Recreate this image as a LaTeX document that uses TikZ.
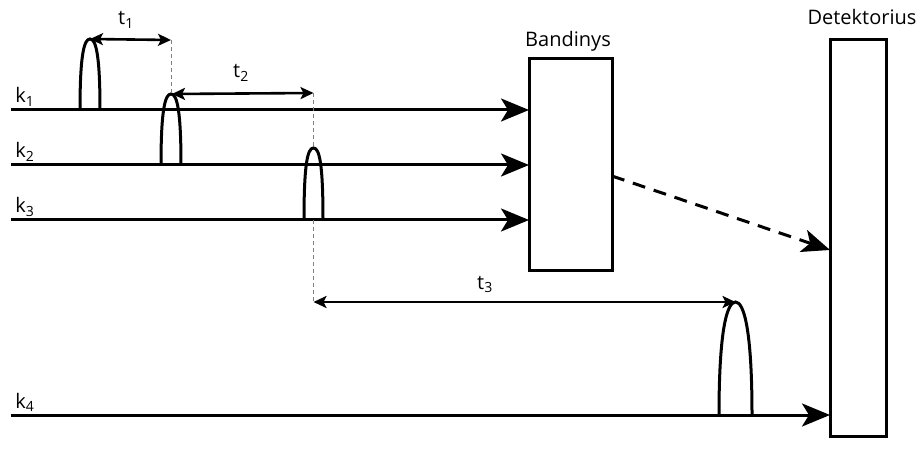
\documentclass[tikz,border=0pt]{standalone}
\usepackage{fontspec}
\setmainfont{Open Sans}
\usetikzlibrary{arrows.meta}
\begin{document}
\begin{tikzpicture}[x=1pt,y=-1pt,
  beam/.style={line width=3pt,-{Stealth[length=28pt,width=23pt,inset=7pt]}},
  dbeam/.style={beam,dash pattern=on 13pt off 9pt},
  tarrow/.style={line width=2.6pt,{Stealth[length=13pt,width=12pt,inset=3pt]}-{Stealth[length=13pt,width=12pt,inset=3pt]}},
  guide/.style={gray,line width=0.9pt,dash pattern=on 4pt off 3pt},
  pulse/.style={line width=3pt},
  box/.style={draw,line width=3pt,outer sep=0pt,inner sep=0pt},
  lab/.style={font=\fontsize{20}{22}\selectfont,anchor=base,inner sep=0pt}]
\useasboundingbox (0,0) rectangle (923,462);
% boxes
\node[box,minimum width=83pt,minimum height=212pt] (band) at (570.5,165) {};
\node[box,minimum width=56pt,minimum height=396pt] (det) at (858,238) {};
\node[lab] (bandlab) at (568,47) {Bandinys};
\node[lab] (detlab) at (862,25) {Detektorius};
% beam starts
\coordinate (s1) at (11,110);
\coordinate (s2) at (11,165);
\coordinate (s3) at (11,220);
\coordinate (s4) at (11,415);
\node[lab] (k1) at (25,103) {k\textsubscript{1}};
\node[lab] (k2) at (25,158) {k\textsubscript{2}};
\node[lab] (k3) at (25,213) {k\textsubscript{3}};
\node[lab] (k4) at (25,408) {k\textsubscript{4}};
\draw[beam] (s1) -- (s1 -| band.west);
\draw[beam] (s2) -- (s2 -| band.west);
\draw[beam] (s3) -- (s3 -| band.west);
\draw[beam] (s4) -- (s4 -| det.west);
\draw[dbeam] ([yshift=-11pt]band.east) -- ([yshift=-12pt]det.west);
% pulses
\coordinate (p1) at (90,39);
\coordinate (p2) at (171,94);
\coordinate (p3) at (313.5,148);
\coordinate (p4) at (735.5,302);
\draw[pulse] (80,110) .. controls (80,55) and (84,39) .. (p1) .. controls (96,39) and (100,55) .. (100,110);
\draw[pulse] (161,165) .. controls (161,110) and (165,94) .. (p2) .. controls (177,94) and (181,110) .. (181,165);
\draw[pulse] (304,220) .. controls (304,164) and (307.5,148) .. (p3) .. controls (319.5,148) and (323,164) .. (323,220);
\draw[pulse] (719,415) .. controls (719,330) and (727,302) .. (p4) .. controls (744,302) and (752,330) .. (752,415);
% time intervals
\coordinate (g1) at (171,40);
\coordinate (g2) at (313.5,93);
\coordinate (g3a) at (313.5,220);
\coordinate (g3) at (313.5,302);
\draw[guide] (g1) -- (p2);
\draw[guide] (g2) -- (p3);
\draw[guide] (g3a) -- (g3);
\draw[tarrow] (p1) -- (g1);
\draw[tarrow] ([xshift=1pt]p2) -- (g2);
\draw[tarrow] (g3) -- (p4);
\node[lab] (t1) at (126,25) {t\textsubscript{1}};
\node[lab] (t2) at (241,78) {t\textsubscript{2}};
\node[lab] (t3) at (485,289) {t\textsubscript{3}};
\end{tikzpicture}
\end{document}
